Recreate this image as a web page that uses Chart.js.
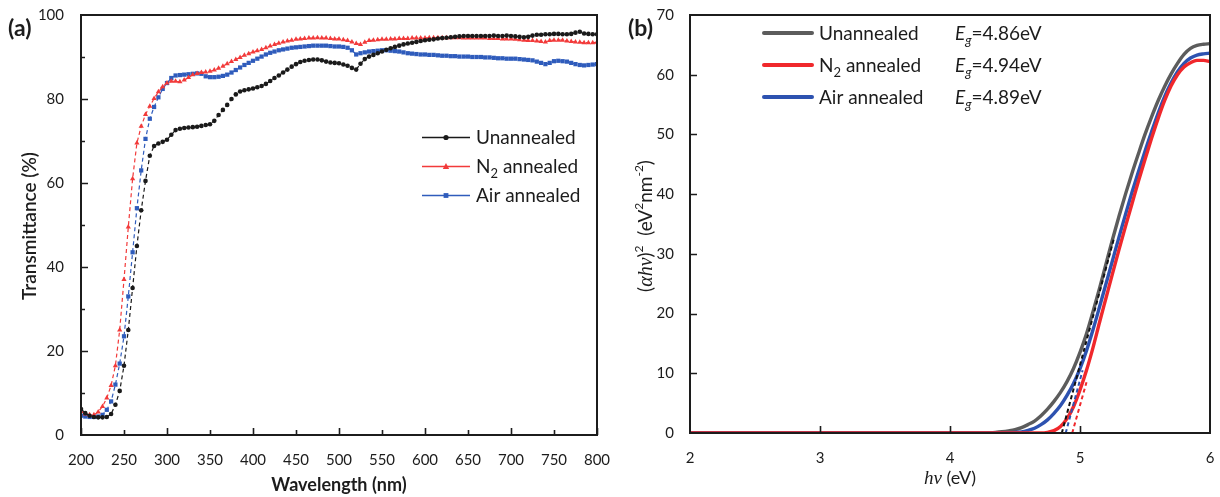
<!DOCTYPE html>
<html>
<head>
<meta charset="utf-8">
<script src="https://cdn.jsdelivr.net/npm/chart.js@4.4.1/dist/chart.umd.min.js"></script>
<style>
html, body { margin: 0; padding: 0; background: #fff; }
#wrap { position: relative; width: 1220px; height: 497px; }
.panel { position: absolute; top: 0; width: 610px; height: 497px; }
#pa { left: 0; }
#pb { left: 610px; }
</style>
</head>
<body>
<div id="wrap">
  <div class="panel" id="pa"><canvas id="chartA"></canvas></div>
  <div class="panel" id="pb"><canvas id="chartB"></canvas></div>
</div>
<script>
// ---- (a) transmittance data ----
const wavelength = [200,205,210,215,220,225,230,235,240,245,250,255,260,265,270,275,280,285,290,295,
  300,305,310,315,320,325,330,335,340,345,350,355,360,365,370,375,380,385,390,395,
  400,405,410,415,420,425,430,435,440,445,450,455,460,465,470,475,480,485,490,495,
  500,505,510,515,520,525,530,535,540,545,550,555,560,565,570,575,580,585,590,595,
  600,605,610,615,620,625,630,635,640,645,650,655,660,665,670,675,680,685,690,695,
  700,705,710,715,720,725,730,735,740,745,750,755,760,765,770,775,780,785,790,795,800];

const unannealedT = [6.2,5.2,4.6,4.3,4.2,4.2,4.3,5.0,7.2,10.5,16.5,25,35,45,53.5,60.5,66.5,68.8,69.4,69.8,
  70.3,71.5,72.6,72.9,73.1,73.2,73.3,73.4,73.6,73.8,74.0,74.8,76.2,77.4,78.6,80.0,81.1,81.8,82.1,82.3,
  82.5,82.8,83.1,83.6,84.3,85.0,85.6,86.3,87.0,87.7,88.3,88.8,89.1,89.3,89.4,89.4,89.2,88.9,88.7,88.6,
  88.5,88.2,87.9,87.4,87.0,88.4,89.5,90.1,90.5,90.9,91.3,91.7,92.1,92.4,92.7,93.0,93.2,93.4,93.6,93.8,
  94.0,94.1,94.2,94.4,94.5,94.6,94.7,94.8,94.9,95.0,95.0,95.0,95.0,95.0,95.0,95.0,95.1,95.0,95.0,95.1,
  95.0,94.9,94.8,94.7,94.8,95.1,95.3,95.3,95.4,95.4,95.5,95.5,95.4,95.4,95.5,95.8,96.0,95.6,95.5,95.4,95.4];

const n2T = [5.6,5.0,4.8,4.8,5.5,6.8,8.8,11.8,16.5,25,37,49.5,61,69.5,73.5,76.3,78.3,80.1,81.7,82.9,
  83.8,84.2,84.2,84.1,84.5,85.1,85.8,86.1,86.3,86.4,86.6,86.9,87.3,87.8,88.4,88.9,89.4,89.9,90.4,90.8,
  91.2,91.5,91.8,92.2,92.6,93.0,93.3,93.6,93.8,94.0,94.2,94.3,94.4,94.5,94.5,94.6,94.5,94.5,94.4,94.3,
  94.3,94.1,93.9,93.6,93.2,93.0,93.5,93.9,94.0,94.1,94.2,94.2,94.3,94.3,94.4,94.4,94.4,94.5,94.5,94.5,
  94.5,94.6,94.6,94.6,94.6,94.6,94.6,94.6,94.6,94.5,94.5,94.5,94.5,94.5,94.5,94.4,94.4,94.4,94.3,94.3,
  94.3,94.2,94.1,94.0,93.9,93.9,93.8,93.7,93.6,93.9,94.0,94.0,94.0,93.8,93.7,93.6,93.5,93.4,93.4,93.4,93.5];

const airT = [4.6,4.4,4.3,4.3,4.4,4.8,6.0,8.0,12.0,17.0,23.5,33,43.5,54,63,70.5,75.3,78.1,80.4,82.4,
  83.8,85.0,85.6,85.7,85.8,85.9,86.0,86.1,86.0,85.4,85.2,85.2,85.3,85.5,85.8,86.3,86.9,87.5,88.1,88.6,
  89.1,89.6,90.1,90.6,91.0,91.3,91.6,91.8,92.0,92.2,92.3,92.4,92.5,92.6,92.7,92.7,92.7,92.7,92.6,92.5,
  92.5,92.4,92.2,91.6,90.6,90.9,91.1,91.3,91.4,91.5,91.6,91.6,91.5,91.4,91.3,91.1,90.9,90.8,90.7,90.6,
  90.6,90.5,90.5,90.4,90.3,90.3,90.2,90.2,90.1,90.1,90.1,90.0,90.0,90.0,89.9,89.9,89.8,89.7,89.7,89.6,
  89.6,89.6,89.5,89.4,89.3,89.2,88.9,88.6,88.3,88.6,89.0,89.1,89.0,88.9,88.6,88.3,88.1,88.0,88.1,88.2,88.3];

const wlTicks = [200,250,300,350,400,450,500,550,600,650,700,750,800];
const wlMajor = [200,300,400,500,600,700,800];
const transTicks = [0,20,40,60,80,100];
const transMinor = [10,30,50,70,90];

// ---- (b) Tauc plot data ----
const photonE = [2.0,2.5,3.0,3.5,4.0,4.1,4.2,4.3,4.35,4.4,4.45,4.5,4.55,4.6,4.65,4.7,4.75,4.8,4.85,4.9,4.95,
  5.0,5.05,5.1,5.15,5.2,5.25,5.3,5.35,5.4,5.45,5.5,5.55,5.6,5.65,5.7,5.75,5.8,5.85,5.9,5.95,6.0];
const unannealedTauc = [0,0,0,0,0,0,0,0.05,0.1,0.2,0.35,0.55,0.9,1.4,2.0,2.9,4.0,5.3,6.8,8.6,10.8,
  13.5,16.6,20.3,24.2,28.3,32.4,36.3,40.0,43.5,46.8,50.0,52.9,55.6,58.0,60.1,61.9,63.4,64.4,64.9,65.1,65.2];
const n2Tauc = [0,0,0,0,0,0,0,0,0,0,0,0,0,0,0,0,0.1,0.4,1.1,2.4,4.4,
  7.2,10.5,14.3,18.5,22.6,26.7,30.7,34.6,38.4,42.2,45.8,49.3,52.6,55.6,58.1,60.0,61.3,62.0,62.4,62.4,62.2];
const airTauc = [0,0,0,0,0,0,0,0,0,0,0.03,0.1,0.2,0.45,0.8,1.4,2.2,3.3,4.6,6.3,8.3,
  10.8,13.8,17.3,21.1,25.0,28.9,32.8,36.6,40.3,43.8,47.2,50.4,53.5,56.3,58.6,60.5,61.9,62.8,63.3,63.5,63.6];

// 外推直線 (band gap fit): [E, value] end points
const unFitE = [4.86, 5.26], unFitV = [0, 32.5];
const n2FitE = [4.94, 5.05], n2FitV = [0, 8.5];
const airFitE = [4.89, 5.02], airFitV = [0, 10.5];

const gapLabels = ['4.86eV', '4.94eV', '4.89eV'];
const eTicks = [2,3,4,5,6];
const taucTicks = [0,10,20,30,40,50,60,70];

const FONT = 'Lato, "Open Sans", sans-serif';
const INK = '#1c1c1c';

// 富文本：parts = [text, font, dy]
function drawRich(ctx, parts, x, y, align) {
    let w = 0;
    parts.forEach(p => { ctx.font = p[1]; w += ctx.measureText(p[0]).width; });
    let cx = align === 'center' ? x - w / 2 : x;
    ctx.textAlign = 'left';
    parts.forEach(p => {
        ctx.font = p[1];
        ctx.fillText(p[0], cx, y + (p[2] || 0));
        cx += ctx.measureText(p[0]).width;
    });
}

function drawMarker(ctx, style, x, y, color) {
    ctx.fillStyle = color;
    ctx.beginPath();
    if (style === 'circle') {
        ctx.arc(x, y, 2.6, 0, Math.PI * 2);
    } else if (style === 'triangle') {
        ctx.moveTo(x, y - 3.4); ctx.lineTo(x + 3.2, y + 2.4); ctx.lineTo(x - 3.2, y + 2.4); ctx.closePath();
    } else {
        ctx.rect(x - 2.4, y - 2.4, 4.8, 4.8);
    }
    ctx.fill();
}

function frameAndTicks(ctx, chart, xList, yList) {
    const a = chart.chartArea, sx = chart.scales.x, sy = chart.scales.y;
    ctx.strokeStyle = INK;
    ctx.lineWidth = 2;
    ctx.strokeRect(a.left, a.top, a.right - a.left, a.bottom - a.top);
    ctx.lineWidth = 1.6;
    ctx.beginPath();
    xList.forEach(t => {
        const px = Math.round(sx.getPixelForValue(t[0])) + 0.5;
        ctx.moveTo(px, a.bottom); ctx.lineTo(px, a.bottom - t[1]);
    });
    yList.forEach(t => {
        const py = Math.round(sy.getPixelForValue(t[0])) + 0.5;
        ctx.moveTo(a.left, py); ctx.lineTo(a.left + t[1], py);
    });
    ctx.stroke();
}

const colA = { un: '#1a1a1a', n2: '#f23a3a', air: '#2f5cbc' };
const colB = { un: '#5c5c5c', n2: '#f0282c', air: '#2d52b0', fit: '#111111' };

const decorA = {
    id: 'decorA',
    afterDraw(chart) {
        const ctx = chart.ctx, a = chart.chartArea;
        ctx.save();
        const xt = wlTicks.map(v => [v, wlMajor.includes(v) ? 7 : 5]);
        const yt = transTicks.filter(v => v > 0 && v < 100).map(v => [v, 7])
            .concat(transMinor.map(v => [v, 4]));
        frameAndTicks(ctx, chart, xt, yt);

        ctx.fillStyle = INK;
        ctx.textBaseline = 'alphabetic';
        ctx.font = 'bold 23px ' + FONT;
        ctx.fillText('(a)', 8, 36);

        ctx.font = 'bold 18px ' + FONT;
        ctx.textAlign = 'center';
        ctx.fillText('Wavelength (nm)', (a.left + a.right) / 2, 491);
        ctx.save();
        ctx.translate(36, 226);
        ctx.rotate(-Math.PI / 2);
        ctx.font = '600 19px ' + FONT;
        ctx.fillText('Transmittance (%)', 0, 0);
        ctx.restore();

        // legend
        const rows = [
            { y: 137, c: colA.un, m: 'circle', parts: [['Unannealed', '19px ' + FONT]] },
            { y: 166, c: colA.n2, m: 'triangle', parts: [['N', '19px ' + FONT], ['2', '13px ' + FONT, 5], [' annealed', '19px ' + FONT]] },
            { y: 195, c: colA.air, m: 'rect', parts: [['Air annealed', '19px ' + FONT]] }
        ];
        rows.forEach(r => {
            ctx.strokeStyle = r.c;
            ctx.lineWidth = 1.3;
            ctx.beginPath(); ctx.moveTo(422, r.y + 0.5); ctx.lineTo(470, r.y + 0.5); ctx.stroke();
            drawMarker(ctx, r.m, 446, r.y + 0.5, r.c);
            ctx.fillStyle = INK;
            drawRich(ctx, r.parts, 476, r.y + 7, 'left');
        });
        ctx.restore();
    }
};

const decorB = {
    id: 'decorB',
    afterDraw(chart) {
        const ctx = chart.ctx, a = chart.chartArea;
        ctx.save();
        const xt = eTicks.filter(v => v > 2 && v < 6).map(v => [v, 7]);
        const yt = taucTicks.filter(v => v > 0 && v < 70).map(v => [v, 7]);
        frameAndTicks(ctx, chart, xt, yt);

        ctx.fillStyle = INK;
        ctx.textBaseline = 'alphabetic';
        ctx.font = 'bold 23px ' + FONT;
        ctx.textAlign = 'left';
        ctx.fillText('(b)', 18, 36);

        const it = 'italic 19px "Liberation Serif", serif';
        drawRich(ctx, [['hν', it], [' (eV)', '18px ' + FONT]], (a.left + a.right) / 2, 484, 'center');

        ctx.save();
        ctx.translate(42, 226);
        ctx.rotate(-Math.PI / 2);
        const f = '19px ' + FONT, s = '12px ' + FONT, itf = 'italic 20px "Liberation Serif", serif';
        drawRich(ctx, [['(', f], ['αhν', itf], [')', f], ['2', s, -9], ['  (eV', f], ['2', s, -9],
            ['nm', f], ['-2', s, -9], [')', f]], 0, 0, 'center');
        ctx.restore();

        const rows = [
            { y: 33, c: colB.un, parts: [['Unannealed', '19px ' + FONT]] },
            { y: 65, c: colB.n2, parts: [['N', '19px ' + FONT], ['2', '13px ' + FONT, 5], [' annealed', '19px ' + FONT]] },
            { y: 97, c: colB.air, parts: [['Air annealed', '19px ' + FONT]] }
        ];
        rows.forEach((r, i) => {
            ctx.strokeStyle = r.c;
            ctx.lineWidth = 4;
            ctx.lineCap = 'round';
            ctx.beginPath(); ctx.moveTo(154, r.y); ctx.lineTo(202, r.y); ctx.stroke();
            ctx.fillStyle = INK;
            drawRich(ctx, r.parts, 209, r.y + 7, 'left');
            drawRich(ctx, [['E', 'italic 19px ' + FONT], ['g', 'italic 13px ' + FONT, 5],
                ['=' + gapLabels[i], '19px ' + FONT]], 345, r.y + 7, 'left');
        });
        ctx.restore();
    }
};

function tickFont() { return { family: FONT, size: 15 }; }

// 固定繪圖區尺寸，不讓刻度標籤撐開邊距
function fixX(h) {
    return s => { s.height = h; s.paddingLeft = 0; s.paddingRight = 0; };
}
function fixY(w) {
    return s => { s.width = w; s.paddingTop = 0; s.paddingBottom = 0; };
}

document.addEventListener('DOMContentLoaded', function() {
    createTransChart();
    createTaucChart();
});

function createTransChart() {
    const ctx = document.getElementById('chartA');
    const common = { borderWidth: 1.2, borderDash: [4, 3], pointBorderWidth: 0, tension: 0 };
    new Chart(ctx, {
        type: 'line',
        data: {
            labels: wavelength,
            datasets: [
                Object.assign({ label: 'Unannealed', data: unannealedT, borderColor: colA.un, pointBackgroundColor: colA.un, pointStyle: 'circle', pointRadius: 2.3 }, common),
                Object.assign({ label: 'N2 annealed', data: n2T, borderColor: colA.n2, pointBackgroundColor: colA.n2, pointStyle: 'triangle', pointRadius: 3 }, common),
                Object.assign({ label: 'Air annealed', data: airT, borderColor: colA.air, pointBackgroundColor: colA.air, pointStyle: 'rect', pointRadius: 3 }, common)
            ]
        },
        options: {
            responsive: true,
            maintainAspectRatio: false,
            animation: false,
            layout: { padding: { left: 0, right: 13, top: 15, bottom: 0 } },
            plugins: { legend: { display: false }, tooltip: { enabled: false } },
            scales: {
                x: {
                    type: 'linear', min: 200, max: 800,
                    afterBuildTicks: s => { s.ticks = wlTicks.map(v => ({ value: v })); },
                    afterFit: fixX(62),
                    grid: { display: false }, border: { display: false },
                    ticks: { font: tickFont(), color: INK, padding: 8, maxRotation: 0, autoSkip: false }
                },
                y: {
                    min: 0, max: 100,
                    afterBuildTicks: s => { s.ticks = transTicks.map(v => ({ value: v })); },
                    afterFit: fixY(81),
                    grid: { display: false }, border: { display: false },
                    ticks: { font: tickFont(), color: INK, padding: 9 }
                }
            }
        },
        plugins: [decorA]
    });
}

function pts(xs, ys) {
    return xs.map((x, i) => ({ x: x, y: ys[i] }));
}

function createTaucChart() {
    const ctx = document.getElementById('chartB');
    const curve = { borderWidth: 3.4, pointRadius: 0, cubicInterpolationMode: 'monotone' };
    const fit = { borderWidth: 2, pointRadius: 0, borderDash: [4, 3] };
    new Chart(ctx, {
        type: 'line',
        data: {
            datasets: [
                Object.assign({ label: 'Unannealed', data: pts(photonE, unannealedTauc), borderColor: colB.un, order: 3 }, curve),
                Object.assign({ label: 'N2 annealed', data: pts(photonE, n2Tauc), borderColor: colB.n2, order: 1 }, curve),
                Object.assign({ label: 'Air annealed', data: pts(photonE, airTauc), borderColor: colB.air, order: 2 }, curve),
                Object.assign({ label: 'fit un', data: pts(unFitE, unFitV), borderColor: colB.fit, order: 0 }, fit),
                Object.assign({ label: 'fit n2', data: pts(n2FitE, n2FitV), borderColor: colB.n2, order: 0 }, fit),
                Object.assign({ label: 'fit air', data: pts(airFitE, airFitV), borderColor: colB.air, order: 0 }, fit)
            ]
        },
        options: {
            responsive: true,
            maintainAspectRatio: false,
            animation: false,
            layout: { padding: { left: 0, right: 10, top: 15, bottom: 0 } },
            plugins: { legend: { display: false }, tooltip: { enabled: false } },
            scales: {
                x: {
                    type: 'linear', min: 2, max: 6,
                    afterBuildTicks: s => { s.ticks = eTicks.map(v => ({ value: v })); },
                    afterFit: fixX(64),
                    grid: { display: false }, border: { display: false },
                    ticks: { font: tickFont(), color: INK, padding: 8, maxRotation: 0 }
                },
                y: {
                    type: 'linear', min: 0, max: 70,
                    afterBuildTicks: s => { s.ticks = taucTicks.map(v => ({ value: v })); },
                    afterFit: fixY(80),
                    grid: { display: false }, border: { display: false },
                    ticks: { font: tickFont(), color: INK, padding: 8 }
                }
            }
        },
        plugins: [decorB]
    });
}
</script>
</body>
</html>
